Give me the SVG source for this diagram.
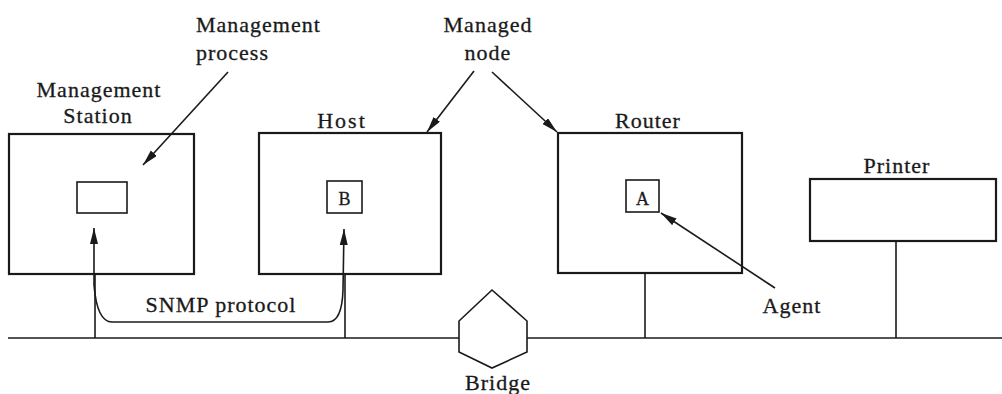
<svg xmlns="http://www.w3.org/2000/svg" width="1002" height="394" viewBox="0 0 1002 394">
  <style>
    .box { fill: none; stroke: #1a1a1a; stroke-width: 2.2; }
    .small { fill: none; stroke: #1a1a1a; stroke-width: 1.6; }
    .wire { fill: none; stroke: #1a1a1a; stroke-width: 1.6; }
    .arrow { fill: none; stroke: #1a1a1a; stroke-width: 1.6; marker-end: url(#head); }
    text { font-family: "Liberation Serif", "Times New Roman", serif; font-size: 22px; fill: #1a1a1a; letter-spacing: 1px; stroke: #1a1a1a; stroke-width: 0.3px; }
    .mid { text-anchor: middle; }
    .tag { font-size: 18px; letter-spacing: 0; }
  </style>
  <defs>
    <marker id="head" markerUnits="userSpaceOnUse" markerWidth="18" markerHeight="10" refX="16" refY="4" orient="auto-start-reverse">
      <path d="M0,0 L16,4 L0,8 Z" fill="#1a1a1a"/>
    </marker>
  </defs>
  <rect width="1002" height="394" fill="#ffffff"/>

  <!-- LAN backbone and station drops -->
  <g id="network">
    <line class="wire" x1="8" y1="338" x2="459" y2="338"/>
    <line class="wire" x1="527" y1="338" x2="1002" y2="338"/>
    <line class="wire" x1="95" y1="274" x2="95" y2="338"/>
    <line class="wire" x1="345" y1="274" x2="345" y2="338"/>
    <line class="wire" x1="645" y1="273" x2="645" y2="338"/>
    <line class="wire" x1="896" y1="241" x2="896" y2="338"/>
  </g>

  <g id="management-station">
    <rect class="box" x="9" y="134" width="185" height="140"/>
    <rect class="small" x="77" y="182" width="50" height="31"/>
    <text class="mid" x="99" y="97">Management</text>
    <text class="mid" x="98" y="123">Station</text>
  </g>

  <g id="host">
    <rect class="box" x="259" y="133" width="182" height="141"/>
    <rect class="small" x="327" y="181" width="35" height="32"/>
    <text class="mid tag" x="344.5" y="205">B</text>
    <text class="mid" x="342" y="128" style="letter-spacing:2px">Host</text>
  </g>

  <g id="router">
    <rect class="box" x="558" y="133" width="184" height="140"/>
    <rect class="small" x="626" y="180" width="33" height="32"/>
    <text class="mid tag" x="642.5" y="205">A</text>
    <text class="mid" x="648" y="128">Router</text>
  </g>

  <g id="printer">
    <rect class="box" x="810" y="179" width="186" height="62"/>
    <text class="mid" x="897" y="173">Printer</text>
  </g>

  <g id="bridge">
    <polygon class="small" points="492,290 527,321 527,352 492,368 459,352 459,321"/>
    <text class="mid" x="498" y="390">Bridge</text>
  </g>

  <g id="labels">
    <text x="196" y="32">Management</text>
    <text x="196" y="60">process</text>
    <text class="mid" x="488" y="32">Managed</text>
    <text class="mid" x="488" y="60">node</text>
    <text class="mid" x="792" y="313">Agent</text>
    <text class="mid" x="221" y="312">SNMP protocol</text>
  </g>

  <!-- callout arrows and the SNMP exchange -->
  <g id="connectors">
    <line class="arrow" x1="228" y1="72" x2="143" y2="165"/>
    <line class="arrow" x1="474" y1="71" x2="427" y2="132"/>
    <line class="arrow" x1="492" y1="72" x2="557" y2="132"/>
    <line class="arrow" x1="775" y1="288" x2="661" y2="213"/>
    <path class="wire" d="M94,228 L94,285 Q97,322 112,322 L328,322 Q342,322 343,290 L344,229" marker-start="url(#head)" marker-end="url(#head)"/>
  </g>
</svg>
